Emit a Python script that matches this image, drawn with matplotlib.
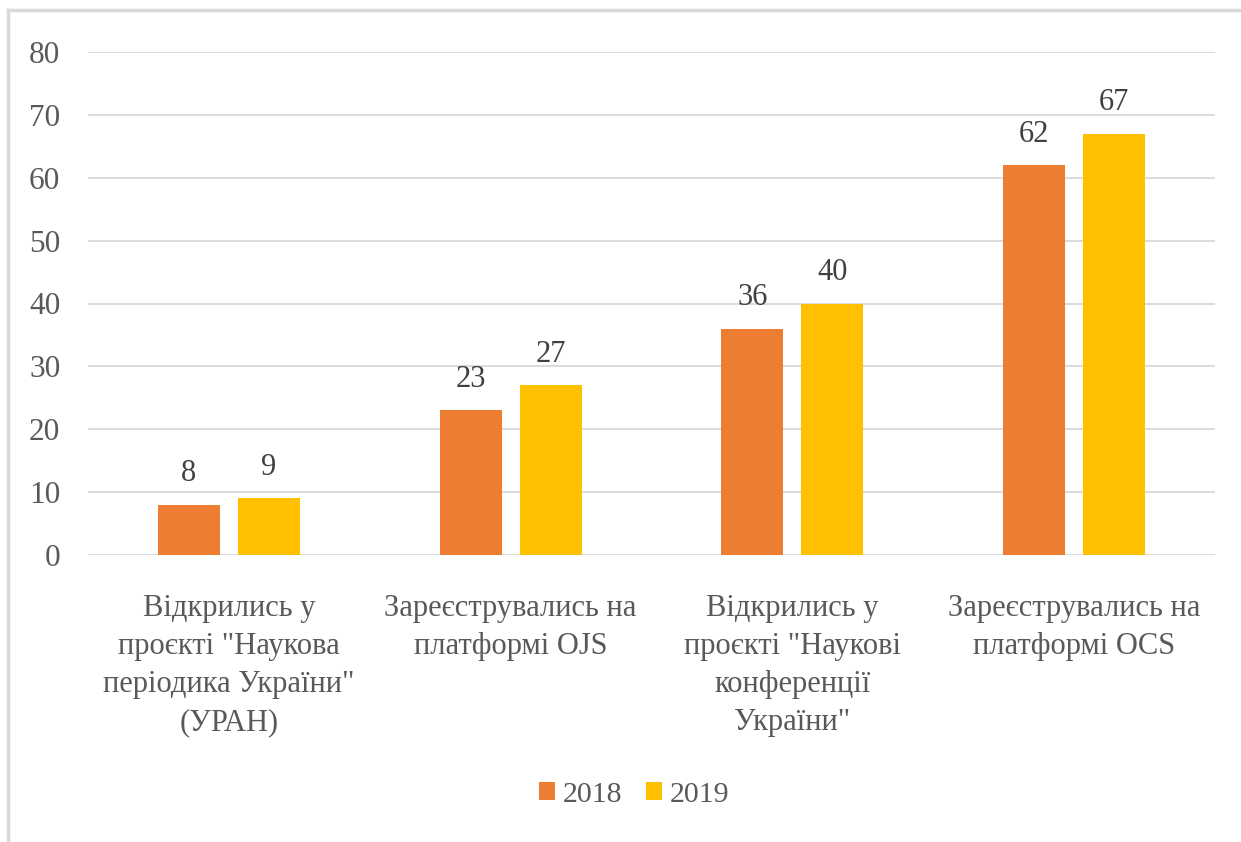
import matplotlib
matplotlib.use("Agg")
import matplotlib.pyplot as plt
import numpy as np
from matplotlib.lines import Line2D

categories = [
    'Відкрились у\nпроєкті "Наукова\nперіодика України"\n(УРАН)',
    'Зареєструвались на\nплатформі OJS',
    'Відкрились у\nпроєкті "Наукові\nконференції\nУкраїни"',
    'Зареєструвались на\nплатформі OCS',
]
series_names = ["2018", "2019"]
values_2018 = [8, 23, 36, 62]
values_2019 = [9, 27, 40, 67]
colors = ["#ED7D31", "#FFC000"]
yticks = [0, 10, 20, 30, 40, 50, 60, 70, 80]

plt.rcParams['font.family'] = ['Liberation Serif', 'DejaVu Serif']
txt = "#595959"

W, H = 1241, 842
fig = plt.figure(figsize=(W / 100, H / 100), dpi=100)
ax = fig.add_axes([88 / W, (H - 555) / H, (1215 - 88) / W, (555 - 52) / H])

x = np.arange(len(categories))
bw = 0.22
off = 0.142
b1 = ax.bar(x - off, values_2018, bw, color=colors[0], label=series_names[0], zorder=3)
b2 = ax.bar(x + off, values_2019, bw, color=colors[1], label=series_names[1], zorder=3)
for bars in (b1, b2):
    ax.bar_label(bars, padding=12, fontsize=22, color="#404040")

ax.set_xlim(-0.5, 3.5)
ax.set_ylim(0, 80)
ax.set_yticks(yticks)
ax.yaxis.grid(True, color="#D9D9D9", linewidth=1.3, zorder=0)
ax.set_axisbelow(True)
for s in ax.spines.values():
    s.set_visible(False)
ax.tick_params(axis="y", length=0, pad=20, labelsize=22.5, labelcolor=txt)
ax.tick_params(axis="x", length=0, pad=28, labelsize=22, labelcolor=txt)
ax.set_xticks(x)
ax.set_xticklabels(categories, linespacing=1.41)

leg = fig.legend(loc="center", bbox_to_anchor=(634 / W, 1 - 795 / H), ncol=2,
                 frameon=False, fontsize=21.5, handlelength=0.55, handleheight=0.55,
                 handletextpad=0.25, columnspacing=0.8, labelcolor=txt)

# outer frame (top and left visible)
fig.add_artist(Line2D([8 / W, 1], [1 - 10 / H, 1 - 10 / H], color="#D9D9D9", linewidth=2.5))
fig.add_artist(Line2D([8 / W, 8 / W], [0, 1 - 10 / H], color="#D9D9D9", linewidth=2.5))

fig.savefig("out.png", dpi=100)
